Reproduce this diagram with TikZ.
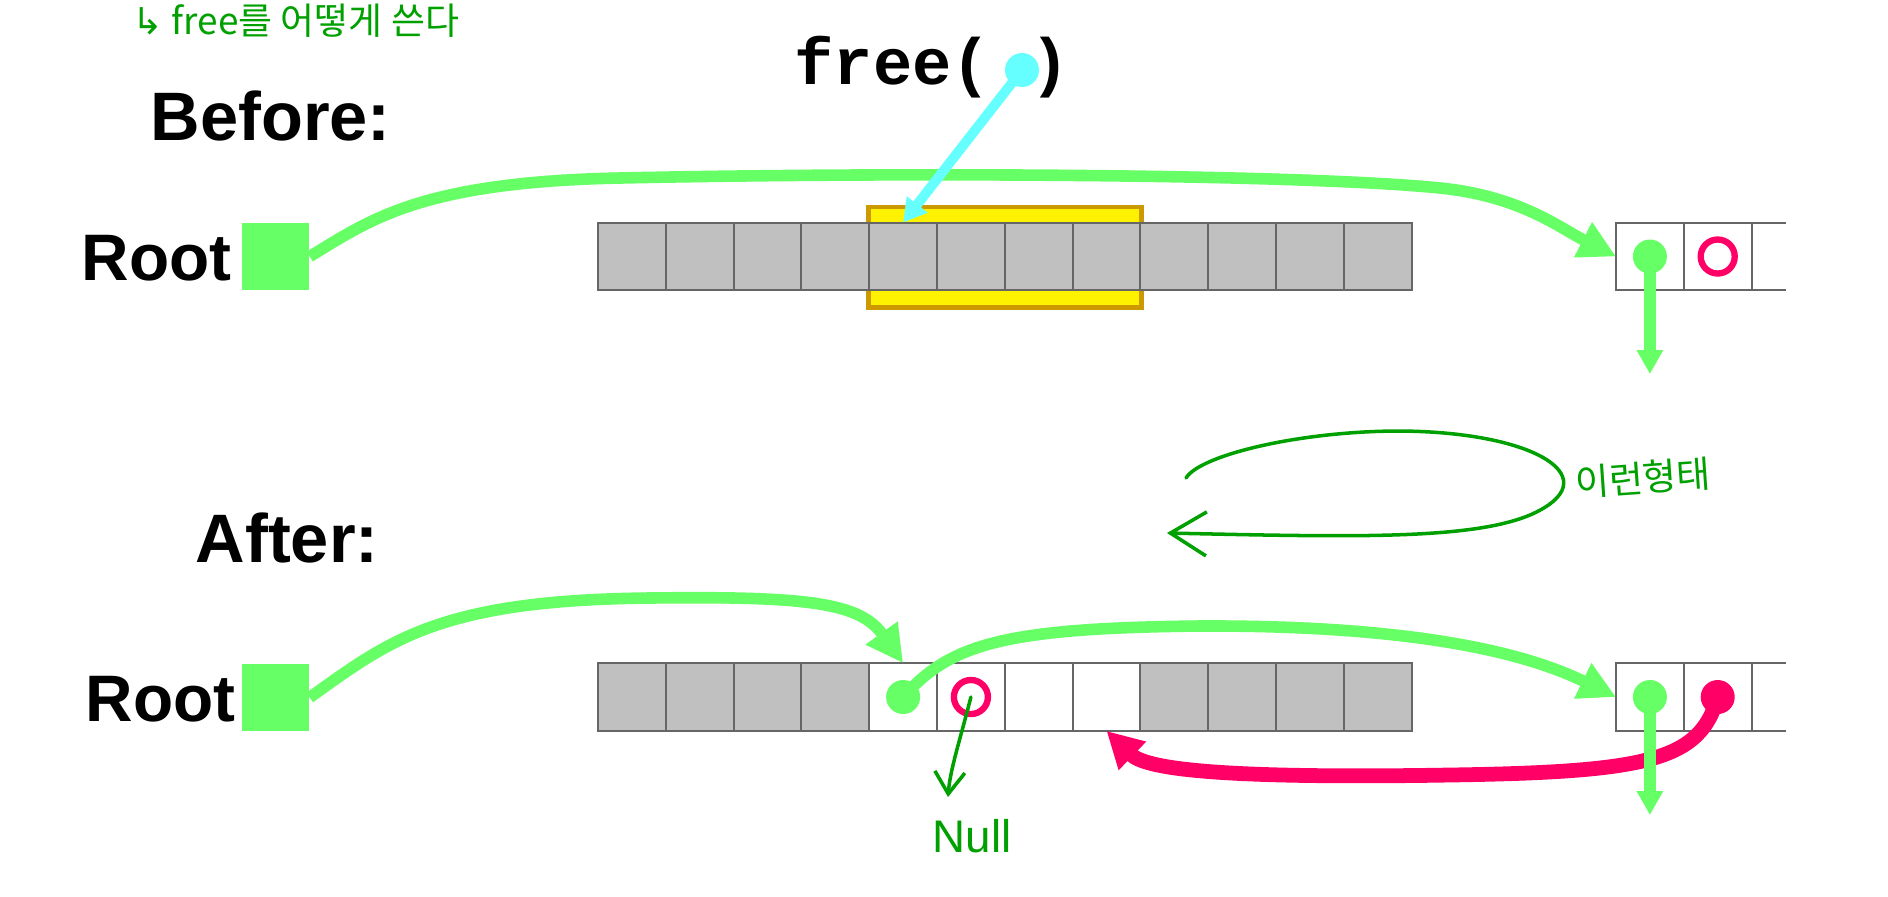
\documentclass[tikz,border=0pt]{standalone}
\usepackage{fontspec}
\setmainfont{Liberation Sans}
\newfontfamily\codefont{Liberation Mono}
\newfontfamily\hanfont{Noto Sans CJK KR}
\newfontfamily\symfont{DejaVu Sans}
\usetikzlibrary{arrows.meta}

\definecolor{ptrgreen}{RGB}{102,255,102}
\definecolor{ptrcyan}{RGB}{102,255,255}
\definecolor{ptrred}{RGB}{255,0,102}
\definecolor{blockgray}{RGB}{192,192,192}
\definecolor{pengreen}{RGB}{0,160,0}
\definecolor{boxgold}{RGB}{204,153,0}

\begin{document}
\begin{tikzpicture}[
        x=0.01cm, y=-0.01cm,
        cell/.style={draw=black!60, line width=0.6pt, minimum size=0.678cm, inner sep=0pt, outer sep=0pt},
        used/.style={cell, fill=blockgray},
        rootbox/.style={fill=ptrgreen, minimum size=0.67cm, inner sep=0pt},
        dot/.style={circle, fill=#1, minimum size=0.34cm, inner sep=0pt},
        ring/.style={circle, draw=ptrred, line width=1.8pt, minimum size=0.34cm, inner sep=0pt},
        freed/.style={fill=yellow, draw=boxgold, line width=1.4pt, minimum width=2.72cm, minimum height=1cm},
        title/.style={font=\fontsize{19.5}{20}\selectfont\bfseries, inner sep=0pt, anchor=base west},
        rootlabel/.style={font=\fontsize{18.7}{19}\selectfont\bfseries, inner sep=0pt, anchor=base east},
        code/.style={font=\codefont\bfseries\fontsize{18.6}{19}\selectfont, inner sep=0pt, anchor=base west},
        pen/.style={text=pengreen, font=\hanfont, inner sep=0pt},
        gptr/.style={draw=ptrgreen, line width=3.3pt, -{Triangle[length=0.37cm, width=0.37cm]}},
        gdown/.style={draw=ptrgreen, line width=3.3pt, -{Triangle[length=0.24cm, width=0.25cm]}},
        cptr/.style={draw=ptrcyan, line width=2.8pt, -{Triangle[length=0.23cm, width=0.25cm]}},
        rptr/.style={draw=ptrred, line width=4.2pt, -{Triangle[length=0.36cm, width=0.37cm]}},
        scribble/.style={draw=pengreen, line width=1pt, line cap=round, -{Straight Barb[length=0.22cm, width=0.3cm]}}
    ]
    \useasboundingbox (0,0) rectangle (1888,896);

    % note on top
    \node[pen, anchor=base west, font=\hanfont\fontsize{10.5}{11}\selectfont] (howfree) at (132,34) {{\symfont ↳} free를 어떻게 쓴다};

    % before
    \node[title] (before) at (150,140) {Before:};
    \node[rootlabel] (rootlblb) at (232,280) {Root};
    \node[rootbox] (rootb) at (275.5,256.5) {};
    \node[freed] (freed) at (1005,257) {};
    \foreach \i in {1,...,12}
        \node[used] (b\i) at ({598+67.8*(\i-0.5)},256.5) {};
    \node[cell] (rb1) at (1649.9,256.5) {};
    \node[cell] (rb2) at (1717.7,256.5) {};
    \draw[draw=black!60, line width=0.6pt] (rb2.north east) -- ++(34,0) (rb2.south east) -- ++(34,0);
    \node[dot=ptrgreen] (rdb1) at (rb1) {};
    \node[ring] (rdb2) at (rb2) {};
    \node[code] (freecall) at (794,84) {free(\ )};
    \node[dot=ptrcyan] (arg) at (1022,70) {};
    \coordinate (nextb) at (1649.9,374);

    \draw[gptr] (rootb.east) .. controls (370,220) and (420,182) .. (620,178)
        .. controls (900,172) and (1300,174) .. (1440,188)
        .. controls (1520,196) and (1560,228) .. (rb1.west);
    \draw[cptr] (arg.center) -- (b5.north);
    \draw[gdown] (rdb1.center) -- (nextb);

    % scribbled loop
    \coordinate (loopa) at (1186,478);
    \coordinate (loopb) at (1167,533);
    \draw[scribble, -{Straight Barb[length=0.36cm, width=0.44cm]}] (loopa) .. controls (1200,455) and (1300,431) .. (1400,431)
        .. controls (1540,432) and (1610,480) .. (1530,515)
        .. controls (1470,540) and (1350,537) .. (loopb);
    \node[pen, rotate=4, font=\hanfont\fontsize{10.5}{11}\selectfont] (shape) at (1643,478) {이런형태};

    % after
    \node[title] (after) at (195,562) {After:};
    \node[rootlabel] (rootlbla) at (236,721) {Root};
    \node[rootbox] (roota) at (275.5,697.5) {};
    \foreach \i in {1,...,12}
        \node[used] (a\i) at ({598+67.8*(\i-0.5)},697) {};
    \foreach \i in {5,...,8}
        \node[cell, fill=white] (a\i) at ({598+67.8*(\i-0.5)},697) {};
    \node[cell] (ra1) at (1649.9,697) {};
    \node[cell] (ra2) at (1717.7,697) {};
    \draw[draw=black!60, line width=0.6pt] (ra2.north east) -- ++(34,0) (ra2.south east) -- ++(34,0);
    \node[dot=ptrgreen] (rda1) at (ra1) {};
    \node[dot=ptrred] (rda2) at (ra2) {};
    \node[dot=ptrgreen] (fa5) at (a5) {};
    \node[ring] (fa6) at (a6) {};
    \coordinate (nexta) at (1649.9,815);
    \coordinate (nullend) at (948,797);
    \node[pen, font=\fontsize{13}{13}\selectfont] (nulltxt) at (972,836) {Null};

    \draw[gptr] (roota.east) .. controls (390,640) and (440,600) .. (650,598)
        .. controls (810,596) and (860,603) .. (a5.north);
    \draw[gptr] (fa5.center) .. controls (950,645) and (1000,628) .. (1200,626)
        .. controls (1440,625) and (1540,660) .. (ra1.west);
    \draw[rptr] (rda2.center) .. controls (1700,760) and (1650,772) .. (1450,775)
        .. controls (1210,779) and (1145,768) .. (a8.south);
    \draw[gdown] (rda1.center) -- (nexta);
    \draw[scribble] (fa6.center) .. controls (960,740) and (950,770) .. (nullend);
\end{tikzpicture}
\end{document}
